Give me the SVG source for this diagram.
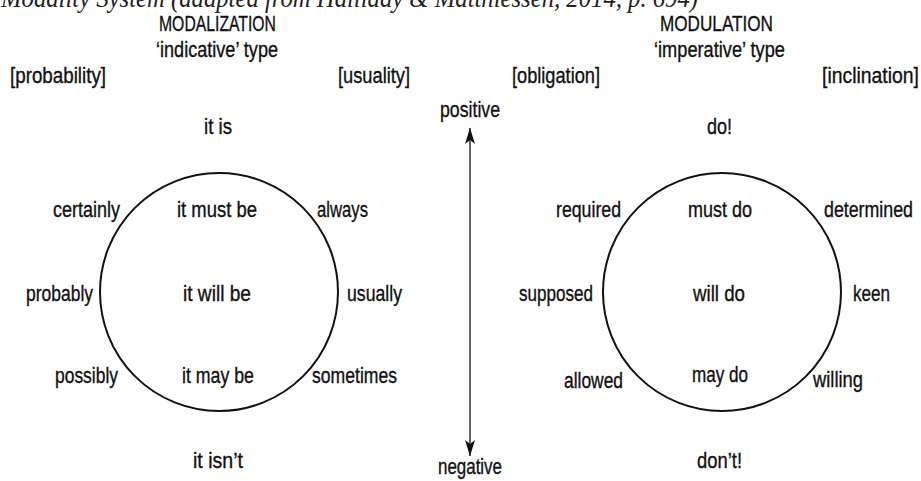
<svg xmlns="http://www.w3.org/2000/svg" width="921" height="481" viewBox="0 0 921 481">
<style>
.t{font-family:"Liberation Sans",Arial,sans-serif;font-size:22px;fill:#111;stroke:#111;stroke-width:0.35}
.title{font-family:"Liberation Serif","Times New Roman",serif;font-style:italic;font-size:28px;fill:#222}
.c{fill:none;stroke:#111;stroke-width:2}
.ax{stroke:#333;stroke-width:1.5;fill:none}
</style>
<defs>
<marker id="ah" viewBox="0 0 16 10" refX="16" refY="5" markerWidth="16" markerHeight="10" markerUnits="userSpaceOnUse" orient="auto-start-reverse">
<path d="M16,5 L0,0 L4,5 L0,10 Z" fill="#111"/>
</marker>
</defs>
<text class="title" x="1" y="7" textLength="697" lengthAdjust="spacingAndGlyphs">Modality System (adapted from Halliday &amp; Matthiessen, 2014, p. 694)</text>

<g id="modalization">
<circle class="c" cx="219" cy="292" r="119"/>
<text class="t" x="159" y="31" textLength="117" lengthAdjust="spacingAndGlyphs">MODALIZATION</text>
<text class="t" x="156" y="57" textLength="122" lengthAdjust="spacingAndGlyphs">‘indicative’ type</text>
<text class="t" x="10" y="83" textLength="96" lengthAdjust="spacingAndGlyphs">[probability]</text>
<text class="t" x="338" y="83" textLength="72" lengthAdjust="spacingAndGlyphs">[usuality]</text>
<text class="t" x="204" y="134" textLength="28" lengthAdjust="spacingAndGlyphs">it is</text>
<text class="t" x="53" y="217" textLength="67" lengthAdjust="spacingAndGlyphs">certainly</text>
<text class="t" x="177" y="217" textLength="80" lengthAdjust="spacingAndGlyphs">it must be</text>
<text class="t" x="317" y="217" textLength="51" lengthAdjust="spacingAndGlyphs">always</text>
<text class="t" x="26" y="301" textLength="67" lengthAdjust="spacingAndGlyphs">probably</text>
<text class="t" x="183" y="301" textLength="68" lengthAdjust="spacingAndGlyphs">it will be</text>
<text class="t" x="347" y="301" textLength="55" lengthAdjust="spacingAndGlyphs">usually</text>
<text class="t" x="55" y="383" textLength="63" lengthAdjust="spacingAndGlyphs">possibly</text>
<text class="t" x="182" y="383" textLength="72" lengthAdjust="spacingAndGlyphs">it may be</text>
<text class="t" x="312" y="383" textLength="85" lengthAdjust="spacingAndGlyphs">sometimes</text>
<text class="t" x="193" y="468" textLength="50" lengthAdjust="spacingAndGlyphs">it isn’t</text>
</g>

<g id="modulation">
<circle class="c" cx="722" cy="292" r="119"/>
<text class="t" x="660" y="31" textLength="113" lengthAdjust="spacingAndGlyphs">MODULATION</text>
<text class="t" x="654" y="57" textLength="131" lengthAdjust="spacingAndGlyphs">‘imperative’ type</text>
<text class="t" x="512" y="83" textLength="88" lengthAdjust="spacingAndGlyphs">[obligation]</text>
<text class="t" x="822" y="83" textLength="97" lengthAdjust="spacingAndGlyphs">[inclination]</text>
<text class="t" x="707" y="134" textLength="25" lengthAdjust="spacingAndGlyphs">do!</text>
<text class="t" x="556" y="217" textLength="65" lengthAdjust="spacingAndGlyphs">required</text>
<text class="t" x="688" y="217" textLength="64" lengthAdjust="spacingAndGlyphs">must do</text>
<text class="t" x="824" y="217" textLength="89" lengthAdjust="spacingAndGlyphs">determined</text>
<text class="t" x="519" y="301" textLength="74" lengthAdjust="spacingAndGlyphs">supposed</text>
<text class="t" x="693" y="301" textLength="52" lengthAdjust="spacingAndGlyphs">will do</text>
<text class="t" x="853" y="301" textLength="37" lengthAdjust="spacingAndGlyphs">keen</text>
<text class="t" x="564" y="388" textLength="59" lengthAdjust="spacingAndGlyphs">allowed</text>
<text class="t" x="692" y="382" textLength="56" lengthAdjust="spacingAndGlyphs">may do</text>
<text class="t" x="813" y="387" textLength="50" lengthAdjust="spacingAndGlyphs">willing</text>
<text class="t" x="697" y="468" textLength="45" lengthAdjust="spacingAndGlyphs">don’t!</text>
</g>

<g id="polarity">
<text class="t" x="440" y="117" textLength="60" lengthAdjust="spacingAndGlyphs">positive</text>
<text class="t" x="438" y="474" textLength="64" lengthAdjust="spacingAndGlyphs">negative</text>
</g>

<g id="connectors">
<line class="ax" x1="470" y1="128" x2="470" y2="456" marker-start="url(#ah)" marker-end="url(#ah)"/>
</g>
</svg>
